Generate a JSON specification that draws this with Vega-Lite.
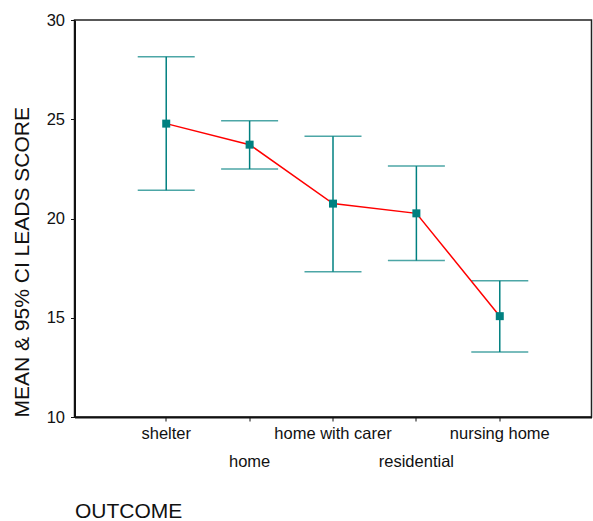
{
  "$schema": "https://vega.github.io/schema/vega-lite/v6.json",
  "width": 517,
  "height": 397,
  "autosize": {"type": "none"},
  "padding": {"left": 74.5, "top": 20, "right": 1.5, "bottom": 104},
  "background": "white",
  "config": {
    "font": "Liberation Sans",
    "view": {"stroke": "#222", "strokeWidth": 1.5},
    "axis": {
      "domainColor": "#111",
      "domainWidth": 2,
      "tickColor": "#111",
      "tickSize": 4,
      "labelColor": "#111",
      "titleColor": "#111",
      "labelFontSize": 16.5,
      "titleFontSize": 21,
      "titleFontWeight": "normal",
      "grid": false
    }
  },
  "data": {
    "values": [
      {"outcome": "shelter", "order": 1, "mean": 24.78, "lower": 21.42, "upper": 28.15},
      {"outcome": "home", "order": 2, "mean": 23.72, "lower": 22.49, "upper": 24.92},
      {"outcome": "home with carer", "order": 3, "mean": 20.75, "lower": 17.32, "upper": 24.14},
      {"outcome": "residential", "order": 4, "mean": 20.26, "lower": 17.88, "upper": 22.64},
      {"outcome": "nursing home", "order": 5, "mean": 15.08, "lower": 13.27, "upper": 16.87}
    ]
  },
  "encoding": {
    "x": {
      "field": "outcome",
      "type": "nominal",
      "sort": ["shelter", "home", "home with carer", "residential", "nursing home"],
      "scale": {"type": "band", "paddingInner": 0.8, "paddingOuter": 1},
      "axis": {
        "title": "OUTCOME",
        "labelAngle": 0,
        "labelPadding": 4,
        "labelLineHeight": 28,
        "bandPosition": 0.5,
        "labelExpr": "datum.label == 'home' || datum.label == 'residential' ? ['', datum.label] : datum.label",
        "titleAnchor": "start",
        "titleAlign": "left",
        "titlePadding": 31
      }
    }
  },
  "layer": [
    {
      "mark": {"type": "rule", "color": "#008080", "strokeWidth": 1.5},
      "encoding": {
        "y": {"field": "lower", "type": "quantitative"},
        "y2": {"field": "upper"}
      }
    },
    {
      "mark": {"type": "tick", "color": "#008080", "thickness": 1.5, "size": 57, "orient": "horizontal"},
      "encoding": {"y": {"field": "lower", "type": "quantitative"}}
    },
    {
      "mark": {"type": "tick", "color": "#008080", "thickness": 1.5, "size": 57, "orient": "horizontal"},
      "encoding": {"y": {"field": "upper", "type": "quantitative"}}
    },
    {
      "mark": {"type": "line", "color": "#ff0000", "strokeWidth": 1.5},
      "encoding": {
        "order": {"field": "order", "type": "quantitative"},
        "y": {
          "field": "mean",
          "type": "quantitative",
          "scale": {"domain": [10, 30], "nice": false, "zero": false},
          "axis": {
            "title": "MEAN & 95% CI LEADS SCORE",
            "values": [10, 15, 20, 25, 30],
            "labelPadding": 6,
            "titlePadding": 14,
            "titleAnchor": "start"
          }
        }
      }
    },
    {
      "mark": {"type": "point", "shape": "square", "filled": true, "size": 64, "color": "#008080", "opacity": 1},
      "encoding": {"y": {"field": "mean", "type": "quantitative"}}
    }
  ]
}
